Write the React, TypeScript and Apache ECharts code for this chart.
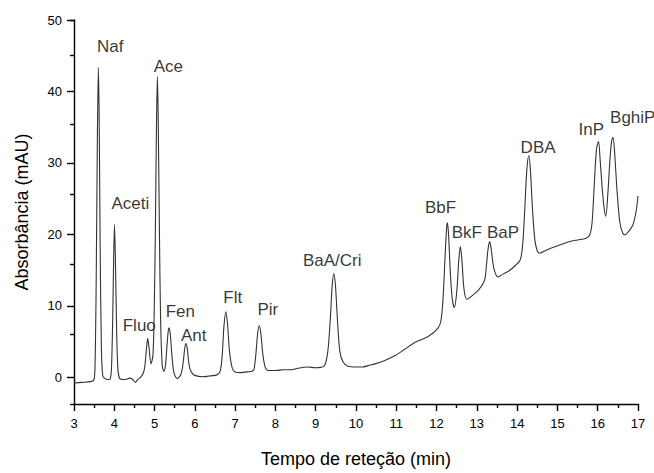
import React, { useEffect, useRef } from "react";
import * as echarts from "echarts";

// Chromatogram trace: retention time (min) and absorbance (mAU)
const traceTime = [
  3.0, 3.2, 3.4, 3.49, 3.52, 3.55, 3.58, 3.605, 3.625, 3.65, 3.68, 3.71, 3.75, 3.855,
  3.9, 3.93, 3.96, 3.985, 4.005, 4.03, 4.06, 4.09, 4.13,
  4.2, 4.3, 4.38, 4.45, 4.52, 4.58, 4.65, 4.72,
  4.76, 4.8, 4.83, 4.86, 4.91,
  4.96, 4.99, 5.02, 5.05, 5.07, 5.09, 5.12, 5.15, 5.19, 5.23,
  5.27, 5.31, 5.34, 5.36, 5.39, 5.43, 5.48, 5.56,
  5.65, 5.7, 5.75, 5.78, 5.81, 5.86, 5.91, 6.0, 6.2, 6.35, 6.5, 6.58,
  6.63, 6.68, 6.72, 6.77, 6.81, 6.86, 6.93, 7.0, 7.14, 7.3, 7.42,
  7.47, 7.52, 7.56, 7.6, 7.64, 7.69, 7.75, 7.82, 8.0, 8.2, 8.4, 8.5, 8.8, 9.0, 9.13,
  9.22, 9.3, 9.36, 9.41, 9.45, 9.49, 9.54, 9.6, 9.68, 9.8, 10.0, 10.17, 10.3, 10.47,
  10.7, 10.96, 11.2, 11.46, 11.8, 12.04, 12.11,
  12.16, 12.21, 12.25, 12.27, 12.3, 12.34, 12.39, 12.44,
  12.5, 12.55, 12.59, 12.63, 12.68, 12.75, 12.9, 13.04, 13.19,
  13.24, 13.28, 13.32, 13.36, 13.42, 13.52, 13.65, 13.79, 13.95, 14.08,
  14.14, 14.19, 14.24, 14.29, 14.33, 14.38, 14.44, 14.5, 14.55, 14.75, 14.95, 15.29, 15.5, 15.7, 15.8,
  15.86, 15.92, 15.97, 16.02, 16.06, 16.11, 16.16, 16.2,
  16.25, 16.31, 16.35, 16.38, 16.42, 16.48, 16.55, 16.62, 16.68, 16.75, 16.87, 16.95, 17.0,
];
const traceAbs = [
  -2.0, -1.9, -1.8, -1.6, 0, 12, 33, 43.2, 36, 17, 3, -0.8, -1.3, -1.5,
  -1.4, 0, 7, 16, 20.7, 15, 5, 0, -1.3,
  -1.5, -1.45, -1.3, -1.45, -1.9, -1.5, -1.2, -0.6,
  0.5, 3, 4.4, 3.2, 0.75,
  2, 8, 20, 36, 41.9, 36, 20, 7, 0.5, -0.3,
  0.5, 3.5, 5.5, 5.9, 5, 2, -0.5, -1.35,
  -0.8, 0.5, 3, 3.65, 3, 0.5, -0.4, -0.9, -1.1, -1.0, -0.9, -0.7,
  -0.3, 2, 6, 8.2, 6.5, 2.5, 0.1, -0.4, -0.5, -0.4, -0.3,
  0, 2.5, 5.2, 6.2, 5, 2, 0.2, -0.2, -0.2, -0.1, -0.1, 0.05, 0.3, 0.2, 0.25,
  0.5, 2.5, 7, 12, 13.7, 12, 7, 2.5, 1.0, 0.4, 0.3, 0.3, 0.5, 0.75,
  1.2, 1.9, 2.8, 3.8, 4.7, 5.9, 7.0,
  10, 16, 20.3, 20.95, 19, 14, 10, 8.8,
  11, 15.5, 17.55, 15.5, 11.5, 10.0, 10.6, 11.3, 12.7,
  15, 17.3, 18.25, 17, 14.5, 13.2, 13.6, 14.05, 14.8, 15.7,
  18, 23, 28.5, 30.6, 28.5, 23, 18.5, 16.9, 16.6, 17.1, 17.55, 18.25, 18.5, 18.7, 19.2,
  21, 27, 31.5, 32.6, 30, 26, 23, 21.9,
  25, 30.5, 32.8, 33.2, 31, 25.5, 21, 19.5, 19.2, 19.6, 20.6, 22.5, 24.8,
];

// Peak annotations
const peakNames = ["Naf", "Aceti", "Ace", "Fluo", "Fen", "Ant", "Flt", "Pir", "BaA/Cri", "BbF", "BkF", "BaP", "DBA", "InP", "BghiP"];
const peakLabelTime = [3.9, 4.4, 5.34, 4.62, 5.64, 5.97, 6.94, 7.81, 9.41, 12.1, 12.75, 13.65, 14.52, 15.84, 16.87];
const peakLabelAbs = [46.2, 23.7, 43.4, 6.3, 8.3, 4.8, 10.2, 8.5, 15.5, 23.1, 19.5, 19.6, 31.8, 34.3, 36.0];

// Axis ranges and tick steps
const xRange = [3, 17];
const xMajorStep = 1;
const yRange = [-5, 50];
const yMajorRange = [0, 50];
const yStep = 10;

const FONT = "Liberation Sans, Arial, sans-serif";
const INK = "#000";

// Plot geometry (pixels)
const G_LEFT = 74;
const G_RIGHT = 16;
const G_TOP = 20;
const G_BOTTOM = 60;
const H = 473;

export default function App() {
  const ref = useRef<HTMLDivElement>(null);
  useEffect(() => {
    if (!ref.current) return;
    const chart = echarts.init(ref.current, null, { renderer: "svg" });
    const line = traceTime.map((t, i) => [t, traceAbs[i]]);
    const labels = peakNames.map((n, i) => ({ value: [peakLabelTime[i], peakLabelAbs[i]], name: n }));
    const tickStyle = { color: INK, width: 1.4 };

    // grid 1 carries only the labelled major y ticks (0..50), aligned with grid 0
    const plotH = H - G_TOP - G_BOTTOM;
    const pxPerUnit = plotH / (yRange[1] - yRange[0]);
    const yPix = (v: number) => G_TOP + (yRange[1] - v) * pxPerUnit;
    const majorGrid = { left: G_LEFT, right: G_RIGHT, top: yPix(yMajorRange[1]), bottom: H - yPix(yMajorRange[0]) };

    chart.setOption({
      animation: false,
      backgroundColor: "#fff",
      grid: [
        { left: G_LEFT, right: G_RIGHT, top: G_TOP, bottom: G_BOTTOM, containLabel: false },
        { ...majorGrid, containLabel: false },
      ],
      xAxis: [
        {
          type: "value",
          gridIndex: 0,
          min: xRange[0],
          max: xRange[1],
          interval: xMajorStep,
          name: "Tempo de reteção (min)",
          nameLocation: "middle",
          nameGap: 46,
          nameTextStyle: { fontFamily: FONT, fontSize: 18, color: INK },
          axisLine: { show: true, onZero: false, lineStyle: { color: INK, width: 1.4 } },
          axisTick: { show: true, inside: false, length: 7, lineStyle: tickStyle },
          minorTick: { show: true, splitNumber: 2, length: 4, lineStyle: tickStyle },
          axisLabel: { fontFamily: FONT, fontSize: 13, color: INK, margin: 13 },
          splitLine: { show: false },
        },
        { type: "value", gridIndex: 1, min: xRange[0], max: xRange[1], show: false },
      ],
      yAxis: [
        {
          // main value axis: its ticks fall on the odd multiples of 5 (minor ticks)
          type: "value",
          gridIndex: 0,
          min: yRange[0],
          max: yRange[1],
          interval: yStep,
          name: "Absorbância (mAU)",
          nameLocation: "middle",
          nameGap: 43,
          nameRotate: 90,
          nameTextStyle: { fontFamily: FONT, fontSize: 18, color: INK },
          axisLine: { show: true, onZero: false, lineStyle: { color: INK, width: 1.4 } },
          axisTick: { show: true, length: 4, lineStyle: tickStyle },
          axisLabel: { show: false },
          splitLine: { show: false },
        },
        {
          type: "value",
          gridIndex: 1,
          min: yMajorRange[0],
          max: yMajorRange[1],
          interval: yStep,
          axisLine: { show: false, onZero: false },
          axisTick: { show: true, length: 7, lineStyle: tickStyle },
          axisLabel: { fontFamily: FONT, fontSize: 13, color: INK, margin: 12 },
          splitLine: { show: false },
        },
      ],
      series: [
        {
          type: "line",
          xAxisIndex: 0,
          yAxisIndex: 0,
          data: line,
          showSymbol: false,
          symbol: "none",
          smooth: 0.3,
          lineStyle: { color: "#333", width: 1.1 },
        },
        {
          type: "scatter",
          xAxisIndex: 0,
          yAxisIndex: 0,
          data: labels,
          symbolSize: 0,
          itemStyle: { color: "transparent" },
          label: {
            show: true,
            position: "inside",
            formatter: (p: any) => p.name,
            fontFamily: FONT,
            fontSize: 17,
            color: INK,
            textBorderWidth: 0,
          },
        },
      ],
    });
    return () => chart.dispose();
  }, []);
  return <div ref={ref} style={{ width: 654, height: 473, position: "absolute", left: 0, top: 0 }} />;
}
